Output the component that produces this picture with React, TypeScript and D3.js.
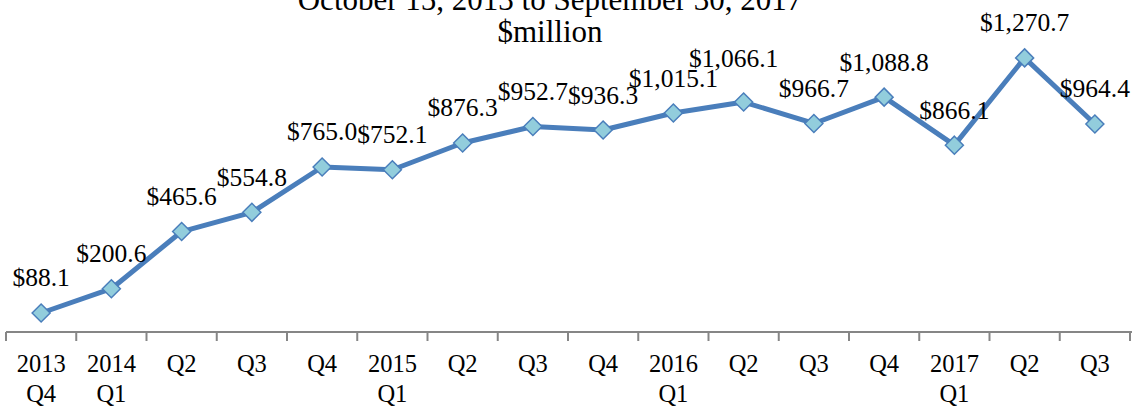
import React from "react";
import * as d3 from "d3";

const categoryLine1 = ["2013", "2014", "Q2", "Q3", "Q4", "2015", "Q2", "Q3", "Q4", "2016", "Q2", "Q3", "Q4", "2017", "Q2", "Q3"];
const categoryLine2 = ["Q4", "Q1", "", "", "", "Q1", "", "", "", "Q1", "", "", "", "Q1", "", ""];
const values = [88.1, 200.6, 465.6, 554.8, 765.0, 752.1, 876.3, 952.7, 936.3, 1015.1, 1066.1, 966.7, 1088.8, 866.1, 1270.7, 964.4];
const titleLines = ["October 15, 2013 to September 30, 2017", "$million"];

const W = 1140;
const H = 409;
const left = 6;
const right = 1130;
const axisY = 332;
const topY = 30;
const font = "'Liberation Serif', 'Times New Roman', serif";

// manually nudged data label (index -> [dx, dy])
const labelNudge: Record<number, [number, number]> = { 10: [-10, -9] };

export default function App() {
  const idx = values.map((_, i) => i);
  const x = d3.scaleBand<number>().domain(idx).range([left, right]).paddingInner(0).paddingOuter(0);
  const y = d3.scaleLinear().domain([0, 1400]).range([axisY, topY]);
  const fmt = d3.format("$,.1f");
  const cx = (i: number) => (x(i) as number) + x.bandwidth() / 2;
  const line = d3.line<number>().x((_, i) => cx(i)).y((d) => y(d));
  const ticks = d3.range(values.length + 1).map((i) => left + i * x.bandwidth());
  const r = 9;

  return (
    <svg width={W} height={H} style={{ position: "absolute", left: 0, top: 0, background: "#fff" }} fontFamily={font}>
      <text x={550} y={10} textAnchor="middle" fontSize={31} fill="#000">{titleLines[0]}</text>
      <text x={550} y={42} textAnchor="middle" fontSize={31} fill="#000">{titleLines[1]}</text>
      <line x1={left} x2={right + 2} y1={axisY} y2={axisY} stroke="#868686" strokeWidth={2} />
      {ticks.map((t, i) => (
        <line key={i} x1={t} x2={t} y1={axisY} y2={axisY + 9} stroke="#868686" strokeWidth={2} />
      ))}
      <path d={line(values) || ""} fill="none" stroke="#4A7EBB" strokeWidth={5} strokeLinejoin="round" />
      {values.map((v, i) => (
        <path
          key={i}
          d={`M${cx(i)},${y(v) - r}L${cx(i) + r},${y(v)}L${cx(i)},${y(v) + r}L${cx(i) - r},${y(v)}Z`}
          fill="#92CDDC"
          stroke="#4A7EBB"
          strokeWidth={1.5}
        />
      ))}
      {values.map((v, i) => {
        const [dx, dy] = labelNudge[i] || [0, 0];
        return (
          <text key={i} x={cx(i) + dx} y={y(v) - 26.5 + dy} textAnchor="middle" fontSize={25.5} fill="#000">{fmt(v)}</text>
        );
      })}
      {categoryLine1.map((c, i) => (
        <text key={i} x={cx(i)} y={372} textAnchor="middle" fontSize={24.5} fill="#000">{c}</text>
      ))}
      {categoryLine2.map((c, i) => (
        <text key={i} x={cx(i)} y={402} textAnchor="middle" fontSize={24.5} fill="#000">{c}</text>
      ))}
    </svg>
  );
}
